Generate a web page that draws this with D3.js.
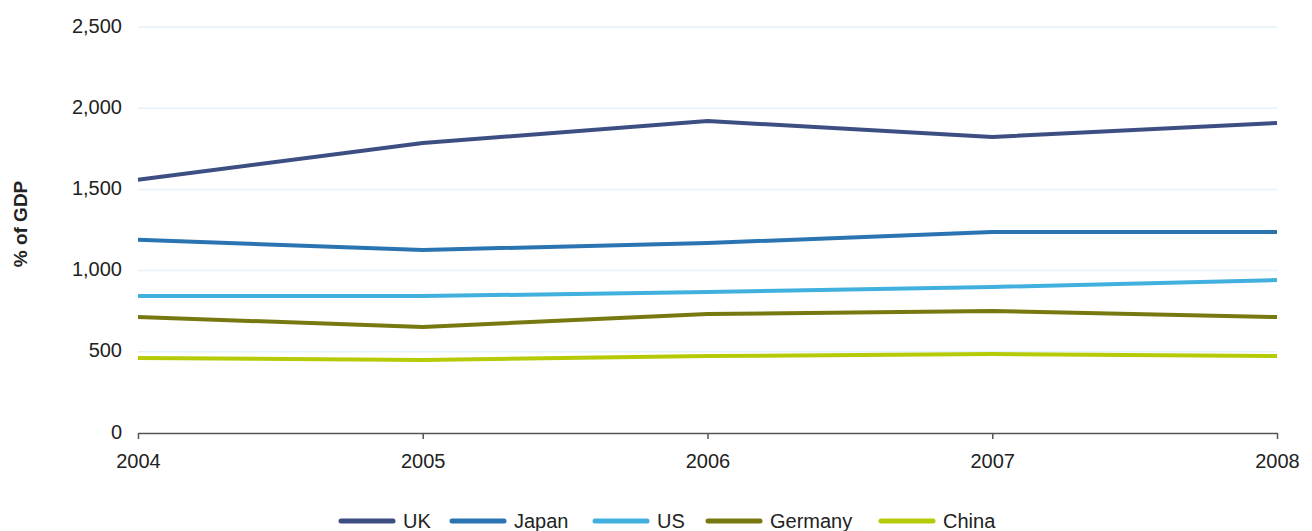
<!DOCTYPE html>
<html><head><meta charset="utf-8">
<script src="https://cdn.jsdelivr.net/npm/d3@7"></script>
<style>body{margin:0;background:#fff;}svg{display:block;font-family:"Liberation Sans",Arial,sans-serif;}</style>
</head><body>
<svg id="c" width="1312" height="531"></svg>
<script>
const years = ["2004","2005","2006","2007","2008"];
const seriesNames = ["UK","Japan","US","Germany","China"];
const ukValues = [1560, 1786, 1921, 1823, 1909];
const japanValues = [1190, 1127, 1170, 1238, 1238];
const usValues = [843, 843, 868, 899, 942];
const germanyValues = [714, 653, 733, 751, 714];
const chinaValues = [462, 450, 474, 486, 474];
const yTicks = [0, 500, 1000, 1500, 2000, 2500];
const colors = ["#3d4f82", "#2a74b2", "#41b0de", "#77780f", "#b5cb08"];
const allValues = [ukValues, japanValues, usValues, germanyValues, chinaValues];

(function () {
const svg = d3.select("#c");
const pLeft = 138, pRight = 1277, pTop = 27, pBottom = 433;
const FONT = "'Liberation Sans',Arial,sans-serif";
const x = d3.scalePoint().domain(years).range([pLeft, pRight]);
const y = d3.scaleLinear().domain([0, 2500]).range([pBottom, pTop]);

// gridlines
svg.append("g").selectAll("line").data(yTicks.filter(d => d > 0)).join("line")
  .attr("x1", pLeft).attr("x2", pRight)
  .attr("y1", d => y(d)).attr("y2", d => y(d))
  .attr("stroke", "#e6f1fa").attr("stroke-width", 1.5);

// y axis labels
const ya = svg.append("g").attr("transform", `translate(${pLeft},0)`)
  .call(d3.axisLeft(y).tickValues(yTicks).tickFormat(d3.format(",")).tickSize(0).tickPadding(16));
ya.select(".domain").remove();
ya.selectAll("text").attr("font-size", 20).attr("fill", "#222").attr("dy", "0.25em").style("font-family", FONT);

// x axis
const xa = svg.append("g").attr("transform", `translate(0,${pBottom})`)
  .call(d3.axisBottom(x).tickSize(6).tickSizeOuter(0).tickPadding(15));
xa.select(".domain").attr("stroke", "#555").attr("stroke-width", 1.5);
xa.selectAll(".tick line").attr("stroke", "#555").attr("stroke-width", 1.5);
xa.selectAll("text").attr("font-size", 20).attr("fill", "#222").style("font-family", FONT);

// y title
svg.append("text").attr("transform", "translate(27,224) rotate(-90)")
  .attr("text-anchor", "middle").attr("font-size", 19).attr("font-weight", "bold").attr("fill", "#222")
  .text("% of GDP");

// lines
const line = d3.line().x((d, i) => x(years[i])).y(d => y(d));
svg.append("g").selectAll("path").data(allValues).join("path")
  .attr("d", d => line(d)).attr("fill", "none")
  .attr("stroke", (d, i) => colors[i]).attr("stroke-width", 4)
  .attr("stroke-linejoin", "round");

// legend
const legendX = [339, 450, 593, 706, 879];
const lg = svg.append("g").selectAll("g").data(seriesNames).join("g")
  .attr("transform", (d, i) => `translate(${legendX[i]},521)`);
lg.append("line").attr("x1", 2).attr("x2", 54).attr("y1", 0).attr("y2", 0)
  .attr("stroke", (d, i) => colors[i]).attr("stroke-width", 5).attr("stroke-linecap", "round");
lg.append("text").attr("x", 64).attr("y", 7).attr("font-size", 20).attr("fill", "#222").text(d => d);
})();
</script>
</body></html>
